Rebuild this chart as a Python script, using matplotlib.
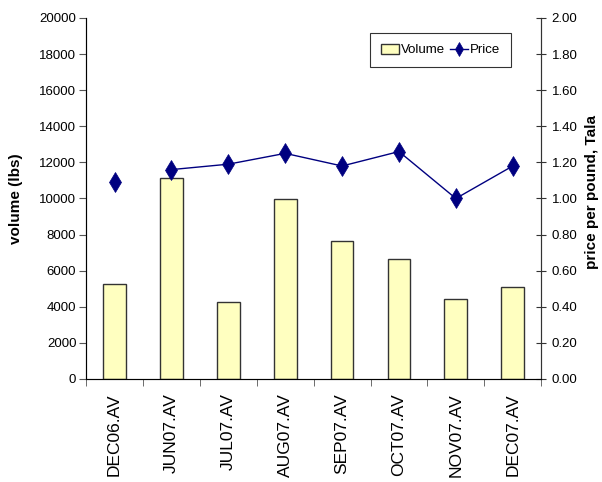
import numpy as np
import matplotlib.pyplot as plt
from matplotlib import font_manager
from matplotlib.ticker import FixedLocator

installed = {f.name for f in font_manager.fontManager.ttflist}
if 'Liberation Sans Narrow' in installed:
    flat_font = ['Liberation Sans Narrow', 'DejaVu Sans']
    flat_size = 11
else:
    flat_font = ['Liberation Sans', 'DejaVu Sans']
    flat_size = 9.5
plt.rcParams['font.family'] = ['Liberation Sans', 'DejaVu Sans']

months = ['DEC06.AV', 'JUN07.AV', 'JUL07.AV', 'AUG07.AV',
          'SEP07.AV', 'OCT07.AV', 'NOV07.AV', 'DEC07.AV']
volume = [5250, 11150, 4250, 9950, 7650, 6650, 4450, 5100]
price = [1.09, 1.16, 1.19, 1.25, 1.18, 1.26, 1.00, 1.18]


def create_plot():
    fig = plt.figure(figsize=(6.02, 4.82), dpi=100)
    ax = fig.add_axes([0.143, 0.2137, 0.756, 0.749])
    x = np.arange(len(months))

    bars = ax.bar(x, volume, width=0.4, color='#FFFFC0', edgecolor='#333333',
                  linewidth=1, label='Volume')
    ax.set_ylim(0, 20000)
    ax.set_xlim(-0.5, len(months) - 0.5)
    ax.set_yticks(range(0, 20001, 2000))
    ax.set_yticklabels([str(v) for v in range(0, 20001, 2000)],
                       family=flat_font, fontsize=flat_size)
    ax.set_ylabel('volume (lbs)', fontsize=11, fontweight='bold')
    ax.yaxis.set_label_coords(-0.138, 0.5)

    ax.set_xticks(x)
    ax.set_xticklabels(months, rotation=90, fontsize=12.5)
    ax.tick_params(axis='x', which='major', length=0, pad=10)
    ax.xaxis.set_minor_locator(FixedLocator(np.arange(-0.5, len(months), 1)))
    ax.tick_params(axis='x', which='minor', length=5, direction='out', color='#555555')
    ax.tick_params(axis='y', length=5, pad=2, direction='out', color='#555555')
    ax.spines['top'].set_visible(False)
    for s in ['left', 'bottom', 'right']:
        ax.spines[s].set_color('#555555')

    ax2 = ax.twinx()
    ax2.set_ylim(0, 2.0)
    ticks = np.arange(0, 2.01, 0.2)
    ax2.set_yticks(ticks)
    ax2.set_yticklabels(['%.2f' % t for t in ticks], family=flat_font, fontsize=flat_size)
    ax2.tick_params(axis='y', length=7, pad=4, direction='inout', color='#333333')
    ax2.set_ylabel('price per pound, Tala', fontsize=11, fontweight='bold')
    ax2.yaxis.set_label_coords(1.097, 0.518)
    ax2.spines['top'].set_visible(False)
    ax2.spines['right'].set_color('#333333')

    # first point stands alone, the rest are joined
    ax2.plot(x[:1], price[:1], marker='d', markersize=10.5, markeredgewidth=0.5,
             color='#000080', linestyle='none')
    line, = ax2.plot(x[1:], price[1:], marker='d', markersize=10.5, markeredgewidth=0.5,
                     color='#000080', linewidth=1, label='Price')

    leg = ax2.legend([bars, line], ['Volume', 'Price'], ncol=2, loc='upper right',
                     bbox_to_anchor=(0.934, 0.958), borderaxespad=0,
                     prop={'family': flat_font, 'size': flat_size},
                     fancybox=False, edgecolor='black', handlelength=1.35,
                     handleheight=0.8, handletextpad=0.2, columnspacing=0.35,
                     borderpad=0.8, markerscale=0.7)
    leg.get_frame().set_linewidth(0.8)

    fig.savefig('out.png', dpi=100)


if __name__ == '__main__':
    create_plot()
